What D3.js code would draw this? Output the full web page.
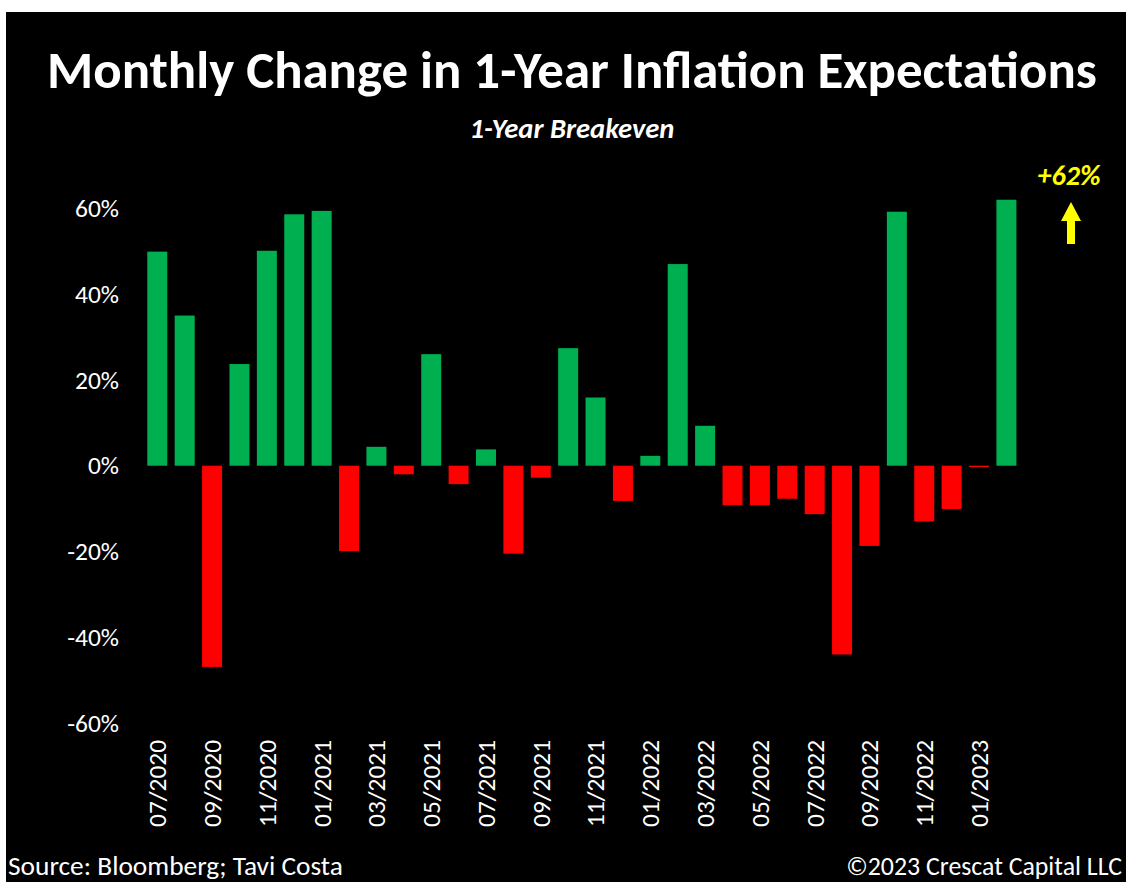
<!DOCTYPE html>
<html>
<head>
<meta charset="utf-8">
<script src="https://cdn.jsdelivr.net/npm/d3@7"></script>
<style>
  html, body { margin: 0; padding: 0; background: #ffffff; }
  svg { display: block; }
</style>
</head>
<body>
<svg id="chart" width="1126" height="882"></svg>
<script>
// Monthly change in the 1-year breakeven inflation rate, in percent
const months = [
  "07/2020","08/2020","09/2020","10/2020","11/2020","12/2020",
  "01/2021","02/2021","03/2021","04/2021","05/2021","06/2021",
  "07/2021","08/2021","09/2021","10/2021","11/2021","12/2021",
  "01/2022","02/2022","03/2022","04/2022","05/2022","06/2022",
  "07/2022","08/2022","09/2022","10/2022","11/2022","12/2022",
  "01/2023","02/2023"
];
const changes = [
  49.9, 35.0, -46.9, 23.7, 50.1, 58.6,
  59.4, -19.9, 4.4, -2.0, 26.0, -4.3,
  3.8, -20.5, -2.8, 27.4, 15.9, -8.2,
  2.3, 47.0, 9.3, -9.2, -9.2, -7.7,
  -11.3, -44.0, -18.7, 59.2, -13.0, -10.1,
  -0.3, 62
];
const yTicks = [-60, -40, -20, 0, 20, 40, 60];
const xTickLabels = months.filter((m, i) => i % 2 === 0);
const callout = "+62%";

const FONT = "Carlito, Calibri, 'Open Sans', Lato, sans-serif";
const svg = d3.select("#chart");

// scale a text's font size so that it spans the wanted width
function fitWidth(sel, width, maxSize) {
  sel.each(function () {
    const el = d3.select(this);
    const fs = parseFloat(el.attr("font-size"));
    const w = this.getComputedTextLength();
    if (w > 0) el.attr("font-size", Math.min(maxSize || 999, fs * width / w));
  });
}

// black panel with a thin white margin on the top and left
svg.append("rect").attr("x", 6).attr("y", 12).attr("width", 1120).attr("height", 870).attr("fill", "#000");

const x = d3.scaleBand().domain(months).range([143.6, 1020.1]).paddingInner(0.27).paddingOuter(0.135);
const y = d3.scaleLinear().domain([-60, 60]).range([723.1, 208.3]);

// title + subtitle
svg.append("text").attr("x", 572).attr("y", 88).attr("text-anchor", "middle")
  .attr("fill", "#fff").attr("font-family", FONT).attr("font-weight", "bold").attr("font-size", 45)
  .text("Monthly Change in 1-Year Inflation Expectations")
  .call(fitWidth, 1050);
svg.append("text").attr("x", 572).attr("y", 138).attr("text-anchor", "middle")
  .attr("fill", "#fff").attr("font-family", FONT).attr("font-weight", "bold").attr("font-style", "italic")
  .attr("font-size", 20).text("1-Year Breakeven")
  .call(fitWidth, 205);

// y axis labels
const yAxis = d3.axisLeft(y).tickValues(yTicks).tickSize(0).tickPadding(0).tickFormat(d => d + "%");
const gy = svg.append("g").attr("transform", "translate(119,0)").call(yAxis);
gy.select(".domain").remove();
gy.selectAll("text").attr("fill", "#fff").attr("font-family", FONT).attr("font-size", 21);
const y60 = gy.selectAll("text").filter(d => d === 60);
const fsY = 21 * 44 / y60.node().getComputedTextLength();
gy.selectAll("text").attr("font-size", fsY);

// bars
svg.append("g").selectAll("rect").data(months).join("rect")
  .attr("x", d => x(d))
  .attr("width", x.bandwidth())
  .attr("y", (d, i) => y(Math.max(0, changes[i])))
  .attr("height", (d, i) => Math.max(1, Math.abs(y(changes[i]) - y(0))))
  .attr("fill", (d, i) => changes[i] >= 0 ? "#00b050" : "#ff0000");

// x axis labels, rotated
const xAxis = d3.axisBottom(x).tickValues(xTickLabels).tickSize(0).tickPadding(0);
const gx = svg.append("g").attr("transform", "translate(0,740)").call(xAxis);
gx.select(".domain").remove();
gx.selectAll("text")
  .attr("fill", "#fff").attr("font-family", FONT).attr("font-size", 21)
  .attr("transform", "rotate(-90)")
  .attr("text-anchor", "end")
  .attr("x", 0).attr("y", 0).attr("dy", "0.35em");
const fsX = 21 * 87 / gx.select("text").node().getComputedTextLength();
gx.selectAll("text").attr("font-size", fsX);

// callout for the latest reading
svg.append("text").attr("x", 1069).attr("y", 185).attr("text-anchor", "middle")
  .attr("fill", "#ffff00").attr("font-family", FONT).attr("font-weight", "bold").attr("font-style", "italic")
  .attr("font-size", 21).text(callout)
  .call(fitWidth, 63);
svg.append("path")
  .attr("d", "M1071,202 L1081,221 L1075,221 L1075,244 L1067,244 L1067,221 L1061,221 Z")
  .attr("fill", "#ffff00");

// footer
svg.append("text").attr("x", 8).attr("y", 875).attr("fill", "#fff")
  .attr("font-family", FONT).attr("font-size", 22).text("Source: Bloomberg; Tavi Costa")
  .call(fitWidth, 335);
svg.append("text").attr("x", 1122).attr("y", 875).attr("text-anchor", "end").attr("fill", "#fff")
  .attr("font-family", FONT).attr("font-size", 22).text("©2023 Crescat Capital LLC")
  .call(fitWidth, 276);
</script>
</body>
</html>
